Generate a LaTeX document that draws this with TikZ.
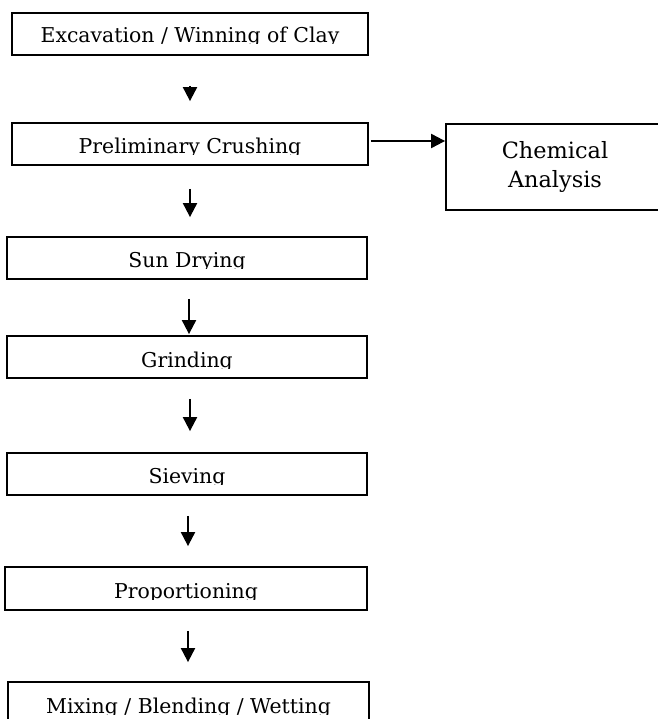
\documentclass[tikz,border=0pt]{standalone}
\usepackage{fontspec}
\setmainfont{DejaVu Serif}
\usetikzlibrary{arrows.meta}
\begin{document}
\begin{tikzpicture}[x=1bp,y=-1bp,
  boxstyle/.style={draw, line width=1.8bp, inner sep=0pt},
  steplabel/.style={anchor=base, inner sep=0pt, font=\fontsize{20.5}{24}\selectfont},
  chemlabel/.style={anchor=base, inner sep=0pt, font=\fontsize{22.5}{29}\selectfont},
  arr/.style={line width=2bp, -{Triangle[width=14bp,length=14bp]}}]
\useasboundingbox (0,0) rectangle (658,719);
\clip (0,0) rectangle (658,719);
% boxes
\node[boxstyle, minimum width=356bp, minimum height=42bp] (b1) at (190,34) {};
\node[boxstyle, minimum width=356bp, minimum height=42bp] (b2) at (190,144) {};
\node[boxstyle, minimum width=226bp, minimum height=86bp] (chem) at (559,167) {};
\node[boxstyle, minimum width=360bp, minimum height=42bp] (b3) at (187,258) {};
\node[boxstyle, minimum width=360bp, minimum height=42bp] (b4) at (187,357) {};
\node[boxstyle, minimum width=360bp, minimum height=42bp] (b5) at (187,474) {};
\node[boxstyle, minimum width=362bp, minimum height=43bp] (b6) at (186,588.5) {};
\node[boxstyle, minimum width=361bp, minimum height=58bp] (b7) at (188.5,711) {};
% texts (lower parts cut off as in the reference)
\begin{scope}\clip (0,14) rectangle (658,44);
\node[steplabel] (t1) at (190,43) {Excavation / Winning of Clay};\end{scope}
\begin{scope}\clip (0,124) rectangle (366,154);
\node[steplabel] (t2) at (190,153) {Preliminary Crushing};\end{scope}
\begin{scope}\clip (0,238) rectangle (366,268);
\node[steplabel] (t3) at (187,267) {Sun Drying};\end{scope}
\begin{scope}\clip (0,337) rectangle (366,368);
\node[steplabel] (t4) at (187,367) {Grinding};\end{scope}
\begin{scope}\clip (0,454) rectangle (366,484);
\node[steplabel] (t5) at (187,483) {Sieving};\end{scope}
\begin{scope}\clip (0,568) rectangle (366,599);
\node[steplabel] (t6) at (186,598) {Proportioning};\end{scope}
\begin{scope}\clip (0,683) rectangle (368,714);
\node[steplabel] (t7) at (188.5,713) {Mixing / Blending / Wetting};\end{scope}
\node[chemlabel] (t8) at (555,158) {Chemical};
\node[chemlabel] (t9) at (555,187) {Analysis};
% arrows
\draw[arr, shorten <=30bp, shorten >=21bp] (b1.south) -- (b1.south |- b2.north);
\draw[arr, shorten <=23bp, shorten >=19bp] (b2.south) -- (b2.south |- b3.north);
\draw[arr, shorten <=19bp, shorten >=1bp] ([xshift=2bp]b3.south) -- ([xshift=2bp]b3.south |- b4.north);
\draw[arr, shorten <=20bp, shorten >=21bp] ([xshift=3bp]b4.south) -- ([xshift=3bp]b4.south |- b5.north);
\draw[arr, shorten <=20bp, shorten >=20bp] ([xshift=1bp]b5.south) -- ([xshift=1bp]b5.south |- b6.north);
\draw[arr, shorten <=20bp, shorten >=19bp] ([xshift=2bp]b6.south) -- ([xshift=2bp]b6.south |- b7.north);
\draw[arr, shorten <=2bp] ([yshift=3bp]b2.east) -- ([yshift=3bp]b2.east -| chem.west);
\end{tikzpicture}
\end{document}
